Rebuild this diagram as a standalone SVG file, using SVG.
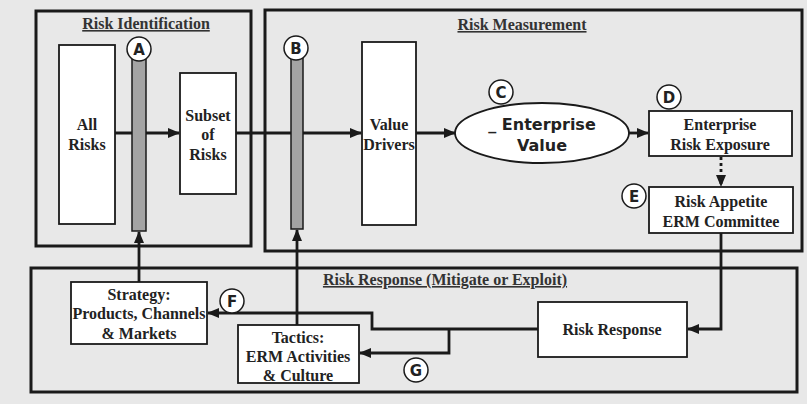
<svg xmlns="http://www.w3.org/2000/svg" width="807" height="404" viewBox="0 0 807 404">
<defs>
<marker id="ah" viewBox="0 0 12 10" refX="11" refY="5" markerWidth="12" markerHeight="10" markerUnits="userSpaceOnUse" orient="auto">
<path d="M0,0 L12,5 L0,10 Z" fill="#1a1a1a"/>
</marker>
<style>
.frame{fill:none;stroke:#1a1a1a;stroke-width:3}
.box{fill:#fff;stroke:#1a1a1a;stroke-width:1.8}
.bar{fill:#a4a4a4;stroke:#1a1a1a;stroke-width:1.5}
.lbl{fill:#fff;stroke:#1a1a1a;stroke-width:1.5}
.t{font-family:"Liberation Serif","Times New Roman",serif;font-weight:bold;font-size:16px;fill:#222;text-anchor:middle}
.h{font-family:"Liberation Serif","Times New Roman",serif;font-weight:bold;font-size:16px;fill:#333;text-anchor:middle;text-decoration:underline}
.s{font-family:"DejaVu Sans",Verdana,sans-serif;font-weight:bold;fill:#222;text-anchor:middle}
.c{fill:none;stroke:#1a1a1a;stroke-width:2.8}
.d{fill:none;stroke:#1a1a1a;stroke-width:2.8;stroke-dasharray:3 3}
</style>
</defs>
<rect x="0" y="0" width="807" height="404" fill="#e8e8e8"/>
<g id="risk-identification">
<rect class="frame" x="36" y="11" width="215" height="235"/>
<text class="h" x="146" y="29">Risk Identification</text>
</g>
<g id="risk-measurement">
<rect class="frame" x="265" y="10" width="537" height="241"/>
<text class="h" x="522" y="30">Risk Measurement</text>
</g>
<g id="risk-response-frame">
<rect class="frame" x="31" y="268" width="766" height="124"/>
<text class="h" x="445" y="285">Risk Response (Mitigate or Exploit)</text>
</g>
<g id="connectors">
<line class="c" x1="115" y1="133" x2="179" y2="133" marker-end="url(#ah)"/>
<line class="c" x1="236" y1="133" x2="361" y2="133" marker-end="url(#ah)"/>
<line class="c" x1="416" y1="133" x2="455" y2="133" marker-end="url(#ah)"/>
<line class="c" x1="629" y1="133" x2="648" y2="133" marker-end="url(#ah)"/>
<line class="d" x1="721" y1="157" x2="721" y2="186" marker-end="url(#ah)"/>
<polyline class="c" points="721,233 721,329 688,329" marker-end="url(#ah)"/>
<polyline class="c" points="538,329 372,329 372,313 208,313" marker-end="url(#ah)"/>
<polyline class="c" points="449,329 449,353 360,353" marker-end="url(#ah)"/>
<line class="c" x1="139" y1="282" x2="139" y2="232" marker-end="url(#ah)"/>
<line class="c" x1="297" y1="325" x2="297" y2="230" marker-end="url(#ah)"/>
</g>
<g id="all-risks">
<rect class="box" x="59" y="45" width="56" height="179"/>
<text class="t" x="87" y="130">All</text>
<text class="t" x="87" y="150">Risks</text>
</g>
<g id="bar-a">
<rect class="bar" x="132" y="55" width="14" height="176"/>
<circle class="lbl" cx="139" cy="49" r="12"/>
<text class="s" x="139" y="55" font-size="15">A</text>
</g>
<g id="subset-of-risks">
<rect class="box" x="180" y="73" width="56" height="121"/>
<text class="t" x="208" y="121">Subset</text>
<text class="t" x="208" y="140">of</text>
<text class="t" x="208" y="160">Risks</text>
</g>
<g id="bar-b">
<rect class="bar" x="291" y="58" width="12" height="171"/>
<circle class="lbl" cx="296" cy="48" r="12"/>
<text class="s" x="296" y="54" font-size="15">B</text>
</g>
<g id="value-drivers">
<rect class="box" x="362" y="42" width="54" height="183"/>
<text class="t" x="389" y="130">Value</text>
<text class="t" x="389" y="150">Drivers</text>
</g>
<g id="enterprise-value">
<ellipse class="box" cx="542" cy="133" rx="87" ry="30"/>
<text class="s" x="542" y="130" font-size="16">_ Enterprise</text>
<text class="s" x="542" y="151" font-size="16">Value</text>
<circle class="lbl" cx="501" cy="92" r="12"/>
<text class="s" x="501" y="98" font-size="15">C</text>
</g>
<g id="enterprise-risk-exposure">
<rect class="box" x="649" y="111" width="143" height="45"/>
<text class="t" x="720" y="130">Enterprise</text>
<text class="t" x="720" y="150">Risk Exposure</text>
<circle class="lbl" cx="669" cy="97" r="12"/>
<text class="s" x="669" y="103" font-size="15">D</text>
</g>
<g id="risk-appetite">
<rect class="box" x="649" y="187" width="144" height="46"/>
<text class="t" x="721" y="207">Risk Appetite</text>
<text class="t" x="721" y="227">ERM Committee</text>
<circle class="lbl" cx="634" cy="196" r="12"/>
<text class="s" x="634" y="202" font-size="15">E</text>
</g>
<g id="risk-response">
<rect class="box" x="538" y="302" width="149" height="55"/>
<text class="t" x="612" y="335">Risk Response</text>
</g>
<g id="strategy">
<rect class="box" x="71" y="282" width="136" height="62"/>
<text class="t" x="139" y="300">Strategy:</text>
<text class="t" x="139" y="319">Products, Channels</text>
<text class="t" x="139" y="339">&amp; Markets</text>
<circle class="lbl" cx="232" cy="301" r="12"/>
<text class="s" x="232" y="307" font-size="15">F</text>
</g>
<g id="tactics">
<rect class="box" x="238" y="325" width="121" height="58"/>
<text class="t" x="298" y="343">Tactics:</text>
<text class="t" x="298" y="362">ERM Activities</text>
<text class="t" x="298" y="381">&amp; Culture</text>
<circle class="lbl" cx="416" cy="370" r="12"/>
<text class="s" x="416" y="376" font-size="15">G</text>
</g>
</svg>
